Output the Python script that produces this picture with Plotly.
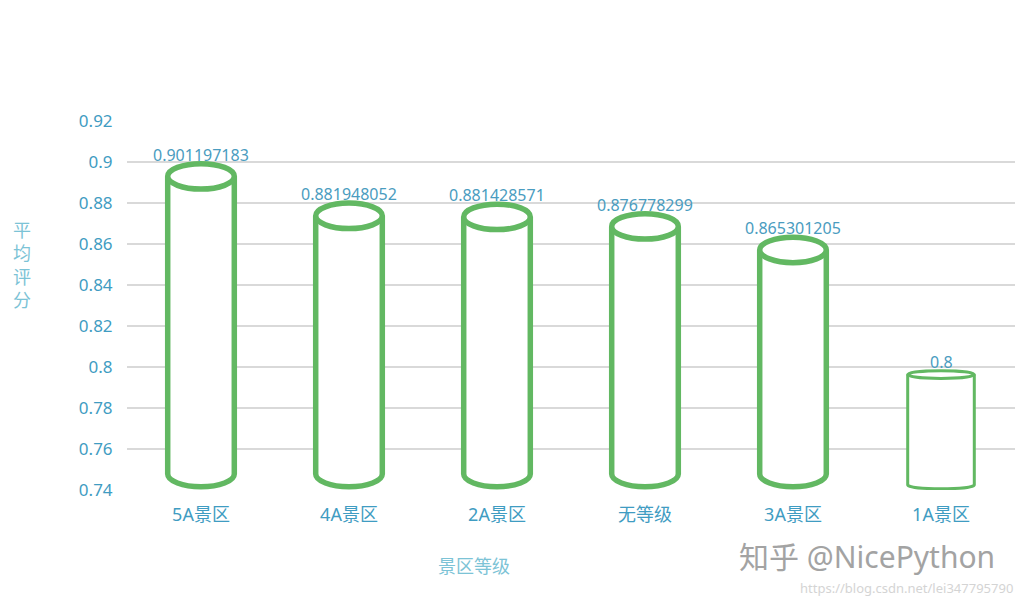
import plotly.graph_objects as go

categories = ["5A景区", "4A景区", "2A景区", "无等级", "3A景区", "1A景区"]
scores = [0.901197183, 0.881948052, 0.881428571, 0.876778299, 0.865301205, 0.8]
value_labels = ["0.901197183", "0.881948052", "0.881428571", "0.876778299", "0.865301205", "0.8"]
y_ticks = [0.74, 0.76, 0.78, 0.80, 0.82, 0.84, 0.86, 0.88, 0.90, 0.92]
y_tick_labels = ["0.74", "0.76", "0.78", "0.8", "0.82", "0.84", "0.86", "0.88", "0.9", "0.92"]

Y_MIN, Y_MAX = 0.74, 0.92
GREEN = "#62b862"
TICK_COLOR = "#3f9cc2"
TITLE_COLOR = "#7cc3d6"
FONT = "Noto Sans, Noto Sans CJK SC, sans-serif"

# page body has an 8px margin; compensate so the plot lands where the reference has it
OFF = 8
L, T = 127 - OFF, 121 - OFF
PW, PH = 888, 369
R = 1023 - L - PW
B = 606 - T - PH

fig = go.Figure()
fig.add_trace(go.Scatter(x=list(range(len(categories))), y=scores, mode="markers",
                         marker=dict(opacity=0), hoverinfo="skip", showlegend=False))

K = 0.5523
shapes = []
annotations = []
half_w = 0.225
for i, v in enumerate(scores):
    thin = (i == len(scores) - 1)
    ry = 0.0019 if thin else 0.0062
    lw = 3 if thin else 5.5
    top_off = 0.0037 if thin else 0.0082
    yt = v - top_off
    yb = Y_MIN + (0.0025 if thin else 0.0078)
    xl, xr = i - half_w, i + half_w
    body = (f"M {xl},{yt} L {xl},{yb} "
            f"C {xl},{yb - K*ry} {i - K*half_w},{yb - ry} {i},{yb - ry} "
            f"C {i + K*half_w},{yb - ry} {xr},{yb - K*ry} {xr},{yb} "
            f"L {xr},{yt} Z")
    shapes.append(dict(type="path", xref="x", yref="y", path=body,
                       fillcolor="white", line=dict(width=0), layer="above"))
    outline = (f"M {xl},{yt} L {xl},{yb} "
               f"C {xl},{yb - K*ry} {i - K*half_w},{yb - ry} {i},{yb - ry} "
               f"C {i + K*half_w},{yb - ry} {xr},{yb - K*ry} {xr},{yb} "
               f"L {xr},{yt}")
    shapes.append(dict(type="path", xref="x", yref="y", path=outline,
                       line=dict(color=GREEN, width=lw), layer="above"))
    shapes.append(dict(type="circle", xref="x", yref="y",
                       x0=xl, x1=xr, y0=yt - ry, y1=yt + ry,
                       fillcolor="white", line=dict(color=GREEN, width=lw), layer="above"))
    annotations.append(dict(x=i, y=v, xref="x", yref="y", text=value_labels[i],
                            showarrow=False, yanchor="middle", yshift=5,
                            font=dict(family=FONT, size=16, color="#4a9cc0")))


def px(x):
    return (x - OFF - L) / PW


def py(y):
    return (606 - B - (y - OFF)) / PH


annotations.append(dict(x=px(22), y=py(265), xref="paper", yref="paper",
                        text="平<br>均<br>评<br>分", showarrow=False,
                        xanchor="center", yanchor="middle",
                        font=dict(family=FONT, size=18, color=TITLE_COLOR)))
annotations.append(dict(x=px(474), y=py(566), xref="paper", yref="paper", text="景区等级",
                        showarrow=False, xanchor="center", yanchor="middle",
                        font=dict(family=FONT, size=18, color=TITLE_COLOR)))
annotations.append(dict(x=px(997), y=py(556), xref="paper", yref="paper",
                        text="知乎 @NicePython", showarrow=False, xanchor="right", yanchor="middle",
                        font=dict(family=FONT, size=30, color="#a3a3a3")))
annotations.append(dict(x=px(1015), y=py(588), xref="paper", yref="paper",
                        text="https://blog.csdn.net/lei347795790", showarrow=False, xanchor="right",
                        yanchor="middle", font=dict(family=FONT, size=13, color="#d4d4d4")))

fig.update_layout(
    width=1023, height=606,
    margin=dict(l=L, r=R, t=T, b=B),
    paper_bgcolor="white", plot_bgcolor="white",
    showlegend=False,
    shapes=shapes,
    annotations=annotations,
    xaxis=dict(range=[-0.5, len(categories) - 0.5], tickvals=list(range(len(categories))),
               ticktext=categories, showgrid=False, zeroline=False, showline=False,
               ticks="outside", ticklen=8, tickcolor="rgba(0,0,0,0)",
               tickfont=dict(family=FONT, size=18, color=TICK_COLOR), fixedrange=True),
    yaxis=dict(range=[Y_MIN, Y_MAX], tickvals=y_ticks, ticktext=y_tick_labels,
               showgrid=True, gridcolor="#d9d9d9", gridwidth=1.5, zeroline=False,
               showline=False, ticks="outside", ticklen=10, tickcolor="rgba(0,0,0,0)",
               tickfont=dict(family=FONT, size=17, color=TICK_COLOR), fixedrange=True),
)

fig.write_html("out.html")
